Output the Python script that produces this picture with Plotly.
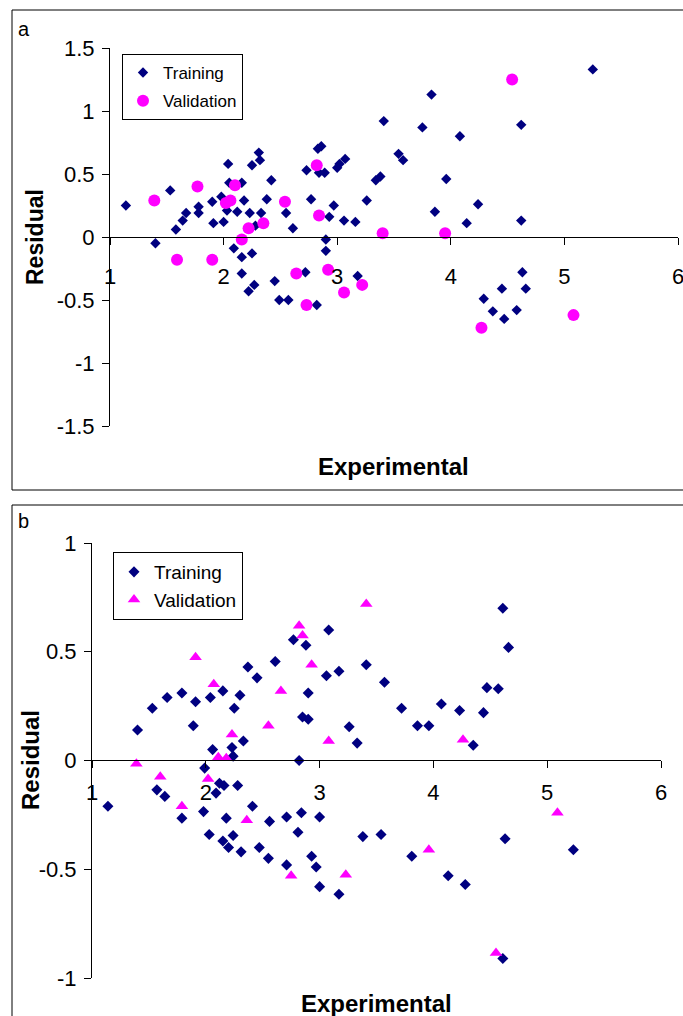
import plotly.graph_objects as go

W, H = 683, 1016
FONT = "Liberation Sans, Arial, Helvetica, sans-serif"
NAVY = "#000080"
MAGENTA = "#FF00FF"

# ---------------- Panel a data ----------------
a_train_x = [1.14, 1.40, 1.53, 1.58, 1.64, 1.67, 1.78, 1.78, 1.90, 1.91, 1.98, 2.00, 2.03, 2.04, 2.05,
             2.09, 2.12, 2.16, 2.16, 2.16, 2.18, 2.23, 2.25, 2.25, 2.22, 2.27, 2.28, 2.31, 2.32, 2.33,
             2.38, 2.42, 2.45, 2.49, 2.55, 2.57, 2.61, 2.72, 2.73, 2.77, 2.82, 2.83, 2.86, 2.84, 2.89,
             2.90, 2.90, 2.93, 2.97, 3.00, 3.02, 3.07, 3.06, 3.16, 3.18, 3.26, 3.34, 3.38, 3.41, 3.54,
             3.58, 3.75, 3.83, 3.86, 3.96, 4.08, 4.14, 4.24, 4.29, 4.37, 4.45, 4.47, 4.58, 4.62, 4.62,
             4.63, 4.66, 5.25]
a_train_y = [0.25, -0.05, 0.37, 0.06, 0.13, 0.19, 0.24, 0.19, 0.28, 0.11, 0.32, 0.12, 0.21, 0.58, 0.43,
             -0.09, 0.20, 0.43, -0.16, -0.29, 0.29, 0.19, 0.57, -0.13, -0.43, -0.38, 0.09, 0.67, 0.61, 0.19,
             0.30, 0.45, -0.35, -0.50, 0.19, -0.50, 0.07, -0.28, 0.53, 0.30, -0.54, 0.70, 0.72, 0.51, 0.51,
             -0.02, -0.11, 0.16, 0.25, 0.55, 0.58, 0.62, 0.13, 0.12, -0.31, 0.29, 0.45, 0.48, 0.92, 0.66,
             0.61, 0.87, 1.13, 0.20, 0.46, 0.80, 0.11, 0.26, -0.49, -0.59, -0.41, -0.65, -0.58, 0.89, 0.13,
             -0.28, -0.41, 1.33]
a_val_x = [1.39, 1.59, 1.77, 1.90, 2.02, 2.06, 2.10, 2.16, 2.22, 2.35, 2.54, 2.64, 2.73, 2.82, 2.84,
           2.92, 3.06, 3.22, 3.40, 3.95, 4.27, 4.54, 5.08]
a_val_y = [0.29, -0.18, 0.40, -0.18, 0.27, 0.29, 0.41, -0.02, 0.07, 0.11, 0.28, -0.29, -0.54, 0.57, 0.17,
           -0.26, -0.44, -0.38, 0.03, 0.03, -0.72, 1.25, -0.62]

# ---------------- Panel b data ----------------
b_train_x = [1.14, 1.40, 1.53, 1.57, 1.64, 1.66, 1.79, 1.79, 1.89, 1.91, 1.98, 1.99, 2.03, 2.04, 2.06,
             2.09, 2.12, 2.15, 2.15, 2.16, 2.18, 2.20, 2.23, 2.24, 2.24, 2.25, 2.28, 2.30, 2.31, 2.33,
             2.37, 2.41, 2.45, 2.47, 2.55, 2.56, 2.61, 2.71, 2.71, 2.77, 2.81, 2.82, 2.84, 2.85, 2.88,
             2.90, 2.90, 2.93, 2.97, 3.00, 3.00, 3.06, 3.08, 3.17, 3.17, 3.26, 3.33, 3.38, 3.41, 3.54,
             3.57, 3.72, 3.81, 3.86, 3.96, 4.07, 4.13, 4.23, 4.28, 4.35, 4.44, 4.47, 4.57, 4.61, 4.61,
             4.63, 4.66, 5.23]
b_train_y = [-0.21, 0.14, 0.24, -0.135, -0.165, 0.29, 0.31, -0.265, 0.16, 0.27, -0.235, -0.035, -0.34, 0.29, 0.05,
             -0.15, -0.105, 0.32, -0.37, -0.115, -0.265, -0.40, 0.06, 0.02, -0.345, 0.24, -0.115, 0.30, -0.42, 0.09,
             0.43, -0.21, 0.38, -0.40, -0.45, -0.28, 0.455, -0.26, -0.48, 0.555, -0.33, 0.0, -0.24, 0.20, 0.53,
             0.31, 0.19, -0.44, -0.49, -0.26, -0.58, 0.39, 0.60, 0.41, -0.615, 0.155, 0.08, -0.35, 0.44, -0.34,
             0.36, 0.24, -0.44, 0.16, 0.16, 0.26, -0.53, 0.23, -0.57, 0.07, 0.22, 0.335, 0.33, 0.70, -0.91,
             -0.36, 0.52, -0.41]
b_val_x = [1.39, 1.60, 1.79, 1.91, 2.02, 2.07, 2.11, 2.18, 2.23, 2.36, 2.55, 2.66, 2.75, 2.82, 2.85,
           2.93, 3.08, 3.23, 3.41, 3.96, 4.26, 4.55, 5.09]
b_val_y = [-0.015, -0.075, -0.21, 0.475, -0.085, 0.35, 0.015, 0.01, 0.12, -0.275, 0.16, 0.32, -0.53, 0.62, 0.575,
           0.44, 0.09, -0.525, 0.72, -0.41, 0.095, -0.885, -0.24]

# ---------------- Ticks / labels ----------------
x_tick_vals = [1, 2, 3, 4, 5, 6]
x_tick_text = ["1", "2", "3", "4", "5", "6"]
a_y_tick_vals = [-1.5, -1, -0.5, 0, 0.5, 1, 1.5]
a_y_tick_text = ["-1.5", "-1", "-0.5", "0", "0.5", "1", "1.5"]
b_y_tick_vals = [-1, -0.5, 0, 0.5, 1]
b_y_tick_text = ["-1", "-0.5", "0", "0.5", "1"]
series_names = ["Training", "Validation"]
x_title = "Experimental"
y_title = "Residual"
panel_labels = ["a", "b"]


def px(x):
    return x / W


def py(y):
    return 1 - y / H


fig = go.Figure()

fig.add_trace(go.Scatter(x=a_train_x, y=a_train_y, mode="markers", name=series_names[0],
                         marker=dict(symbol="diamond", size=8, color=NAVY, line=dict(width=0)),
                         xaxis="x", yaxis="y", legend="legend", legendgroup="a1"))
fig.add_trace(go.Scatter(x=a_val_x, y=a_val_y, mode="markers", name=series_names[1],
                         marker=dict(symbol="circle", size=12, color=MAGENTA, line=dict(width=0)),
                         xaxis="x", yaxis="y", legend="legend", legendgroup="a2"))
fig.add_trace(go.Scatter(x=b_train_x, y=b_train_y, mode="markers", name=series_names[0],
                         marker=dict(symbol="diamond", size=8.5, color=NAVY, line=dict(width=0)),
                         xaxis="x2", yaxis="y2", legend="legend2", legendgroup="b1"))
fig.add_trace(go.Scatter(x=b_val_x, y=b_val_y, mode="markers", name=series_names[1],
                         marker=dict(symbol="triangle-up", size=11, color=MAGENTA, line=dict(width=0)),
                         xaxis="x2", yaxis="y2", legend="legend2", legendgroup="b2"))

tickfont = dict(family=FONT, size=22, color="black")
common_x = dict(range=[1, 6], tickvals=x_tick_vals, ticktext=x_tick_text, ticks="outside", ticklen=7,
                tickcolor="black", tickwidth=1, showline=True, linecolor="black", linewidth=1,
                showgrid=False, zeroline=False, tickfont=tickfont, anchor="free", automargin=False,
                ticklabeloverflow="allow")
common_y = dict(ticks="outside", ticklen=7, tickcolor="black", tickwidth=1, showline=True,
                linecolor="black", linewidth=1, showgrid=False, zeroline=False, tickfont=tickfont,
                automargin=False)

fig.update_layout(
    template="none",
    width=W, height=H,
    autosize=False,
    margin=dict(l=0, r=0, t=0, b=0, pad=0, autoexpand=False),
    paper_bgcolor="white", plot_bgcolor="white",
    font=dict(family=FONT, color="black"),
    xaxis=dict(domain=[px(110), px(678)], position=py(237), ticklabelstandoff=13, **common_x),
    yaxis=dict(domain=[py(426), py(48)], range=[-1.5, 1.5], anchor="x",
               tickvals=a_y_tick_vals, ticktext=a_y_tick_text, ticklabelstandoff=3, **common_y),
    xaxis2=dict(domain=[px(92), px(661)], position=py(760), ticklabelstandoff=6, **common_x),
    yaxis2=dict(domain=[py(978), py(543)], range=[-1, 1], anchor="x2",
                tickvals=b_y_tick_vals, ticktext=b_y_tick_text, ticklabelstandoff=3, **common_y),
    legend=dict(x=px(122), y=py(54), xanchor="left", yanchor="top", bordercolor="black", borderwidth=1,
                bgcolor="white", font=dict(family=FONT, size=17, color="black"), tracegroupgap=3,
                itemsizing="trace"),
    legend2=dict(x=px(113), y=py(552), xanchor="left", yanchor="top", bordercolor="black", borderwidth=1,
                 bgcolor="white", font=dict(family=FONT, size=19, color="black"), tracegroupgap=0,
                 itemsizing="trace"),
    showlegend=True,
)

# panel frames
fig.add_shape(type="rect", xref="paper", yref="paper", x0=px(12), x1=1.01, y0=py(490), y1=py(10),
              line=dict(color="black", width=1))
fig.add_shape(type="rect", xref="paper", yref="paper", x0=px(12), x1=1.01, y0=-0.01, y1=py(505),
              line=dict(color="black", width=1))

ann = []
ann.append(dict(text=panel_labels[0], x=px(16), y=py(29), xref="paper", yref="paper", xanchor="left",
                yanchor="middle", showarrow=False, font=dict(family=FONT, size=20, color="black")))
ann.append(dict(text=panel_labels[1], x=px(16), y=py(521), xref="paper", yref="paper", xanchor="left",
                yanchor="middle", showarrow=False, font=dict(family=FONT, size=20, color="black")))
ann.append(dict(text="<b>%s</b>" % x_title, x=px(393), y=py(466), xref="paper", yref="paper",
                xanchor="center", yanchor="middle", showarrow=False, font=dict(family=FONT, size=24, color="black")))
ann.append(dict(text="<b>%s</b>" % y_title, x=px(35), y=py(237), xref="paper", yref="paper", textangle=-90,
                xanchor="center", yanchor="middle", showarrow=False, font=dict(family=FONT, size=23, color="black")))
ann.append(dict(text="<b>%s</b>" % x_title, x=px(376), y=py(1003), xref="paper", yref="paper",
                xanchor="center", yanchor="middle", showarrow=False, font=dict(family=FONT, size=24, color="black")))
ann.append(dict(text="<b>%s</b>" % y_title, x=px(30), y=py(760), xref="paper", yref="paper", textangle=-90,
                xanchor="center", yanchor="middle", showarrow=False, font=dict(family=FONT, size=24, color="black")))
fig.update_layout(annotations=ann)

fig.write_html("out.html", config={"displayModeBar": False},
               post_script="document.body.style.margin='0px';document.body.style.padding='0px';")
